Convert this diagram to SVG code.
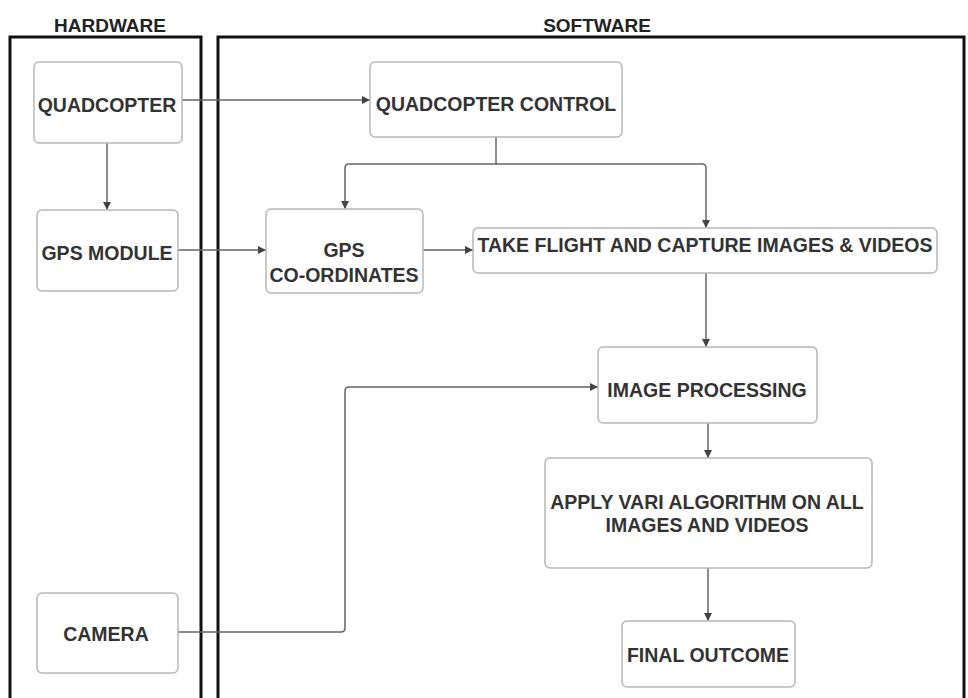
<svg xmlns="http://www.w3.org/2000/svg" width="968" height="698" viewBox="0 0 968 698">
<style>
.frame{fill:none;stroke:#111;stroke-width:3}
.title{font-family:"Liberation Sans",Arial,sans-serif;font-weight:bold;font-size:19px;fill:#222;text-anchor:middle}
.box{fill:#fff;stroke:#b8b8b8;stroke-width:1.5}
.lbl{font-family:"Liberation Sans",Arial,sans-serif;font-weight:bold;font-size:19.5px;fill:#333;text-anchor:middle}
.edge{fill:none;stroke:#666;stroke-width:1.5}
</style>
<defs>
<marker id="arr" viewBox="0 0 10 10" refX="10" refY="5" markerWidth="8" markerHeight="8" markerUnits="userSpaceOnUse" orient="auto">
<path d="M0,0 L10,5 L0,10 z" fill="#444"/>
</marker>
</defs>
<rect width="968" height="698" fill="#fff"/>
<g id="hardware-frame">
<rect class="frame" x="10" y="37" width="191" height="680"/>
<text class="title" x="110" y="32">HARDWARE</text>
</g>
<g id="software-frame">
<rect class="frame" x="218" y="37" width="746" height="680"/>
<text class="title" x="597" y="32">SOFTWARE</text>
</g>
<g id="connectors">
<path class="edge" d="M182,100 H370" marker-end="url(#arr)"/>
<path class="edge" d="M107,143 V210" marker-end="url(#arr)"/>
<path class="edge" d="M178,250 H266" marker-end="url(#arr)"/>
<path class="edge" d="M496,137 V164 H349 Q345,164 345,168 V209" marker-end="url(#arr)"/>
<path class="edge" d="M496,164 H702 Q706,164 706,168 V228" marker-end="url(#arr)"/>
<path class="edge" d="M423,250 H473" marker-end="url(#arr)"/>
<path class="edge" d="M706,273 V347" marker-end="url(#arr)"/>
<path class="edge" d="M178,632 H341 Q345,632 345,628 V391 Q345,387 349,387 H598" marker-end="url(#arr)"/>
<path class="edge" d="M708,423 V458" marker-end="url(#arr)"/>
<path class="edge" d="M708,568 V621" marker-end="url(#arr)"/>
</g>
<g id="quadcopter">
<rect class="box" x="34" y="62" width="148" height="81" rx="5"/>
<text class="lbl" x="107" y="112">QUADCOPTER</text>
</g>
<g id="gps-module">
<rect class="box" x="37" y="210" width="141" height="81" rx="5"/>
<text class="lbl" x="107" y="260">GPS MODULE</text>
</g>
<g id="camera">
<rect class="box" x="37" y="593" width="141" height="80" rx="5"/>
<text class="lbl" x="106" y="641">CAMERA</text>
</g>
<g id="quadcopter-control">
<rect class="box" x="370" y="62" width="252" height="75" rx="5"/>
<text class="lbl" x="496" y="111">QUADCOPTER CONTROL</text>
</g>
<g id="gps-coordinates">
<rect class="box" x="266" y="209" width="157" height="84" rx="5"/>
<text class="lbl" x="344" y="257">GPS</text>
<text class="lbl" x="344" y="282">CO-ORDINATES</text>
</g>
<g id="take-flight">
<rect class="box" x="473" y="228" width="464" height="45" rx="5"/>
<text class="lbl" x="705" y="252">TAKE FLIGHT AND CAPTURE IMAGES &amp; VIDEOS</text>
</g>
<g id="image-processing">
<rect class="box" x="598" y="347" width="219" height="76" rx="5"/>
<text class="lbl" x="707" y="397">IMAGE PROCESSING</text>
</g>
<g id="apply-vari">
<rect class="box" x="545" y="458" width="327" height="110" rx="5"/>
<text class="lbl" x="707" y="509">APPLY VARI ALGORITHM ON ALL</text>
<text class="lbl" x="707" y="532">IMAGES AND VIDEOS</text>
</g>
<g id="final-outcome">
<rect class="box" x="622" y="621" width="173" height="66" rx="5"/>
<text class="lbl" x="708" y="662">FINAL OUTCOME</text>
</g>
</svg>
